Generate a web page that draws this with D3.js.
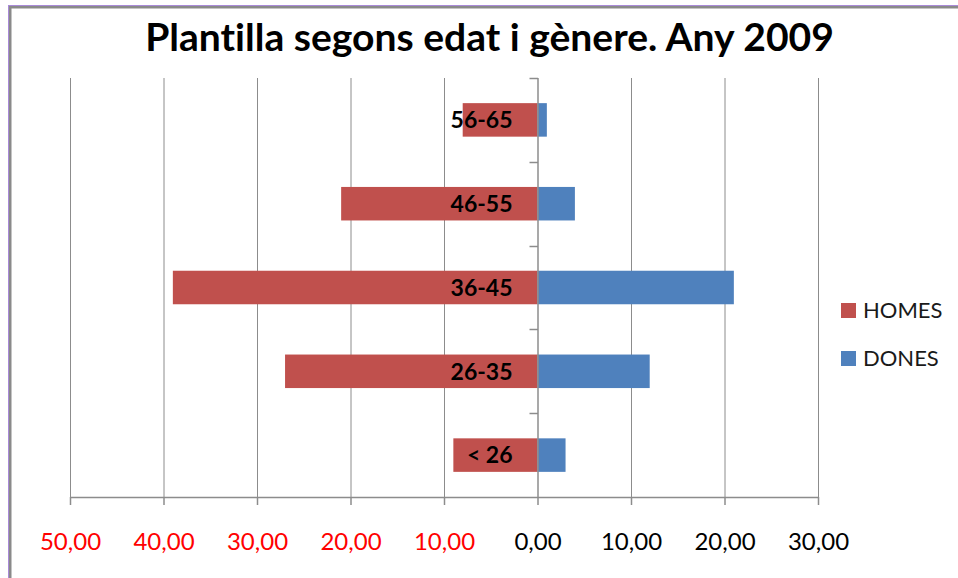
<!DOCTYPE html>
<html>
  <head>
    <meta charset="utf-8">
    <title>Plantilla segons edat i gènere</title>
    <script src="https://d3js.org/d3.v7.min.js"></script>
    <style>
      body { margin: 0; background: #fff; }
      #chart { display: block; font-family: Lato, "Open Sans", sans-serif; font-variant-ligatures: none; }
      .grid line { stroke: #8c8c8c; stroke-width: 1; }
      .axis path, .axis line { stroke: #8c8c8c; stroke-width: 1.5; }
      .catLabel { font-weight: bold; font-size: 23px; fill: #000; }
      .legend text { font-size: 22px; fill: #1a1a1a; }
    </style>
  </head>
  <body>
    <svg id="chart" width="958" height="578"></svg>
    <script>
      // data
      const ages = ["56-65", "46-55", "36-45", "26-35", "< 26"];
      const homes = [8, 21, 39, 27, 9];
      const dones = [1, 4, 21, 12, 3];
      const xTicks = [-50, -40, -30, -20, -10, 0, 10, 20, 30];
      const series = ["HOMES", "DONES"];
      const colours = ["#c0504d", "#4f81bd"];

      const width = 958, height = 578;
      const margin = { top: 78, right: 140, bottom: 81, left: 70 };
      const svg = d3.select("#chart");

      // frame of the original chart object
      svg.append("line").attr("x1", 10).attr("x2", 10).attr("y1", 6).attr("y2", height)
        .attr("stroke", "#8a8a8a").attr("stroke-width", 3);
      svg.append("line").attr("x1", 9).attr("x2", width).attr("y1", 7).attr("y2", 7)
        .attr("stroke", "#8a8a8a").attr("stroke-width", 3);
      svg.append("line").attr("x1", 8.5).attr("x2", 8.5).attr("y1", 5).attr("y2", height)
        .attr("stroke", "#a98ad8").attr("stroke-width", 1);
      svg.append("line").attr("x1", 8).attr("x2", width).attr("y1", 5.5).attr("y2", 5.5)
        .attr("stroke", "#a98ad8").attr("stroke-width", 1);

      // title, sized to the original's width
      const title = svg.append("text")
        .attr("x", 489.5)
        .attr("y", 51)
        .attr("text-anchor", "middle")
        .style("font-weight", "bold")
        .style("font-size", "36px")
        .text("Plantilla segons edat i gènere. Any 2009");
      const tw = title.node().getComputedTextLength();
      title.style("font-size", (36 * 689 / tw) + "px");

      // scales
      const x = d3.scaleLinear()
        .domain([-50, 30])
        .range([margin.left, width - margin.right]);
      const y = d3.scaleBand()
        .domain(ages)
        .range([margin.top, height - margin.bottom])
        .paddingInner(0.6)
        .paddingOuter(0.3);

      // vertical gridlines
      svg.append("g")
        .classed("grid", true)
        .selectAll("line")
        .data(xTicks.filter(function(d) { return d !== 0; }))
        .enter().append("line")
          .attr("x1", function(d) { return x(d) + 0.5; })
          .attr("x2", function(d) { return x(d) + 0.5; })
          .attr("y1", margin.top)
          .attr("y2", height - margin.bottom);

      // bars
      const rows = ages.map(function(a, i) { return { age: a, homes: homes[i], dones: dones[i] }; });
      svg.append("g").selectAll("rect")
        .data(rows)
        .enter().append("rect")
          .attr("x", function(d) { return x(-d.homes); })
          .attr("y", function(d) { return y(d.age); })
          .attr("width", function(d) { return x(0) - x(-d.homes); })
          .attr("height", y.bandwidth())
          .attr("fill", colours[0]);
      svg.append("g").selectAll("rect")
        .data(rows)
        .enter().append("rect")
          .attr("x", x(0))
          .attr("y", function(d) { return y(d.age); })
          .attr("width", function(d) { return x(d.dones) - x(0); })
          .attr("height", y.bandwidth())
          .attr("fill", colours[1]);

      // x axis
      const xAxis = d3.axisBottom(x)
        .tickValues(xTicks)
        .tickSize(8)
        .tickSizeOuter(0)
        .tickPadding(28)
        .tickFormat(function(d) { return Math.abs(d).toFixed(2).replace(".", ","); });
      const xg = svg.append("g")
        .classed("axis", true)
        .attr("transform", "translate(0," + (height - margin.bottom) + ")")
        .call(xAxis);
      xg.selectAll("text")
        .style("font-family", "Lato, sans-serif")
        .style("font-size", "24px")
        .attr("fill", function(d) { return d < 0 ? "#ff0000" : "#000"; });

      // y axis at zero, ticks on category boundaries
      const yg = svg.append("g").classed("axis", true);
      yg.append("line")
        .attr("x1", x(0) + 0.5).attr("x2", x(0) + 0.5)
        .attr("y1", margin.top).attr("y2", height - margin.bottom);
      const bounds = ages.map(function(a) { return y(a) - y.step() * y.paddingOuter(); });
      yg.selectAll(".tk")
        .data(bounds)
        .enter().append("line")
          .classed("tk", true)
          .attr("x1", x(0) - 8).attr("x2", x(0) + 0.5)
          .attr("y1", function(d) { return Math.round(d) + 0.5; })
          .attr("y2", function(d) { return Math.round(d) + 0.5; });

      // category labels
      svg.append("g").selectAll("text")
        .data(ages)
        .enter().append("text")
          .classed("catLabel", true)
          .attr("x", x(0) - 25)
          .attr("y", function(d) { return y(d) + y.bandwidth() / 2; })
          .attr("dy", "0.36em")
          .attr("text-anchor", "end")
          .text(function(d) { return d; });

      // legend
      const legend = svg.append("g").classed("legend", true);
      const items = legend.selectAll("g")
        .data(series)
        .enter().append("g")
          .attr("transform", function(d, i) { return "translate(841," + (303 + i * 48) + ")"; });
      items.append("rect")
        .attr("width", 15).attr("height", 15)
        .attr("fill", function(d, i) { return colours[i]; });
      items.append("text")
        .attr("x", 22)
        .attr("y", 7.5)
        .attr("dy", "0.36em")
        .text(function(d) { return d; });
    </script>
  </body>
</html>
